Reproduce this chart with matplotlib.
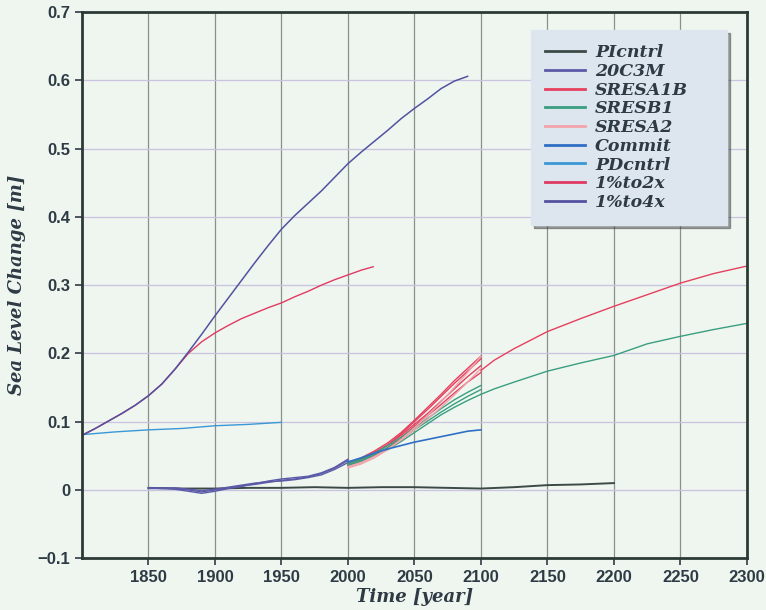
import matplotlib
matplotlib.use("Agg")
import matplotlib.pyplot as plt

# ---- data ----
pictrl_year = [1850, 1875, 1900, 1925, 1950, 1975, 2000, 2025, 2050, 2075, 2100, 2125, 2150, 2175, 2200]
pictrl = [0.003, 0.002, 0.002, 0.003, 0.003, 0.004, 0.003, 0.004, 0.004, 0.003, 0.002, 0.004, 0.007, 0.008, 0.010]

c20_year = [1850, 1860, 1870, 1880, 1890, 1900, 1910, 1920, 1930, 1940, 1950, 1960, 1970, 1980, 1990, 2000]
c20_runs = [
    [0.003, 0.003, 0.002, 0.000, -0.003, 0.000, 0.003, 0.006, 0.008, 0.011, 0.014, 0.016, 0.019, 0.024, 0.032, 0.043],
    [0.002, 0.002, 0.001, -0.002, -0.005, -0.002, 0.002, 0.005, 0.009, 0.013, 0.016, 0.018, 0.020, 0.025, 0.033, 0.045],
    [0.003, 0.002, 0.003, 0.001, -0.001, 0.001, 0.004, 0.007, 0.010, 0.012, 0.013, 0.015, 0.018, 0.022, 0.030, 0.040],
]

scen_year = [2000, 2010, 2020, 2030, 2040, 2050, 2060, 2070, 2080, 2090, 2100]
a1b_runs = [
    [0.040, 0.046, 0.055, 0.066, 0.080, 0.096, 0.112, 0.130, 0.148, 0.166, 0.182],
    [0.038, 0.045, 0.054, 0.066, 0.082, 0.100, 0.118, 0.137, 0.156, 0.174, 0.192],
    [0.036, 0.042, 0.051, 0.062, 0.077, 0.093, 0.109, 0.125, 0.142, 0.158, 0.172],
    [0.039, 0.047, 0.057, 0.069, 0.084, 0.102, 0.121, 0.140, 0.160, 0.178, 0.196],
]
a2_runs = [
    [0.032, 0.038, 0.047, 0.059, 0.074, 0.091, 0.109, 0.129, 0.150, 0.172, 0.196],
    [0.034, 0.040, 0.049, 0.060, 0.073, 0.088, 0.104, 0.121, 0.139, 0.158, 0.178],
]
b1_runs = [
    [0.038, 0.044, 0.052, 0.062, 0.074, 0.088, 0.101, 0.114, 0.126, 0.137, 0.147],
    [0.036, 0.042, 0.050, 0.059, 0.071, 0.084, 0.097, 0.110, 0.121, 0.131, 0.140],
    [0.040, 0.046, 0.054, 0.065, 0.077, 0.091, 0.105, 0.119, 0.132, 0.143, 0.153],
]
commit = [0.041, 0.047, 0.054, 0.060, 0.065, 0.070, 0.074, 0.078, 0.082, 0.086, 0.088]

ext_year = [2100, 2110, 2125, 2150, 2175, 2200, 2225, 2250, 2275, 2300]
a1b_ext = [0.175, 0.190, 0.207, 0.232, 0.251, 0.269, 0.286, 0.303, 0.317, 0.328]
b1_ext = [0.140, 0.148, 0.158, 0.174, 0.186, 0.197, 0.214, 0.225, 0.235, 0.244]

pd_year = [1800, 1825, 1850, 1875, 1900, 1925, 1950]
pdcntrl = [0.081, 0.085, 0.088, 0.090, 0.094, 0.096, 0.099]

x4_year = [1800, 1810, 1820, 1830, 1840, 1850, 1860, 1870, 1880, 1890, 1900, 1910, 1920, 1930, 1940,
           1950, 1960, 1970, 1980, 1990, 2000, 2010, 2020, 2030, 2040, 2050, 2060, 2070, 2080, 2090]
x4 = [0.080, 0.090, 0.101, 0.112, 0.124, 0.138, 0.155, 0.177, 0.202, 0.228, 0.255, 0.281, 0.307, 0.333, 0.358,
      0.382, 0.402, 0.420, 0.438, 0.458, 0.478, 0.495, 0.511, 0.527, 0.544, 0.559, 0.573, 0.588, 0.599, 0.606]
x2_year = [1800, 1810, 1820, 1830, 1840, 1850, 1860, 1870, 1880, 1890, 1900, 1910, 1920, 1930, 1940,
           1950, 1960, 1970, 1980, 1990, 2000, 2010, 2019]
x2 = [0.080, 0.090, 0.101, 0.112, 0.124, 0.138, 0.155, 0.177, 0.200, 0.217, 0.230, 0.241, 0.251, 0.259, 0.267,
      0.274, 0.283, 0.291, 0.300, 0.308, 0.315, 0.322, 0.327]

# ---- style ----
bg = "#eff6f0"
ink = "#2e3b44"
col = {
    "PIcntrl": "#3c4a47",
    "20C3M": "#5b5aa8",
    "SRESA1B": "#e5405e",
    "SRESB1": "#3a9e80",
    "SRESA2": "#f2a3ab",
    "Commit": "#2f6fc6",
    "PDcntrl": "#3a98d6",
    "1%to2x": "#e03a62",
    "1%to4x": "#5252a0",
}
lab_font = dict(family="DejaVu Serif", weight="bold", style="italic")

fig = plt.figure(figsize=(7.66, 6.10), dpi=100, facecolor=bg)
ax = fig.add_axes([0.107, 0.085, 0.868, 0.895], facecolor=bg)

lw = 1.0
ax.plot(pictrl_year, pictrl, color=col["PIcntrl"], lw=1.4, label="PIcntrl")
for i, r in enumerate(c20_runs):
    ax.plot(c20_year, r, color=col["20C3M"], lw=lw, label="20C3M" if i == 0 else None)
for i, r in enumerate(a1b_runs):
    ax.plot(scen_year, r, color=col["SRESA1B"], lw=lw, label="SRESA1B" if i == 0 else None)
for i, r in enumerate(b1_runs):
    ax.plot(scen_year, r, color=col["SRESB1"], lw=lw, label="SRESB1" if i == 0 else None)
for i, r in enumerate(a2_runs):
    ax.plot(scen_year, r, color=col["SRESA2"], lw=lw, label="SRESA2" if i == 0 else None)
ax.plot(scen_year, commit, color=col["Commit"], lw=1.2, label="Commit")
ax.plot(pd_year, pdcntrl, color=col["PDcntrl"], lw=lw, label="PDcntrl")
ax.plot(x2_year, x2, color=col["1%to2x"], lw=lw, label="1%to2x")
ax.plot(x4_year, x4, color=col["1%to4x"], lw=1.1, label="1%to4x")
# continuation after 2100 (not in legend)
ax.plot(ext_year, a1b_ext, color=col["SRESA1B"], lw=lw)
ax.plot(ext_year, b1_ext, color=col["SRESB1"], lw=lw)

ax.set_xlim(1800, 2300)
ax.set_ylim(-0.1, 0.7)
ax.set_xticks(range(1850, 2301, 50))
ax.set_yticks([-0.1, 0, 0.1, 0.2, 0.3, 0.4, 0.5, 0.6, 0.7])
ax.set_yticklabels(["\u22120.1", "0", "0.1", "0.2", "0.3", "0.4", "0.5", "0.6", "0.7"])

ax.xaxis.grid(True, color="#8a908a", lw=0.9)
ax.yaxis.grid(True, color="#c9c3e2", lw=0.9)
ax.set_axisbelow(True)

for s in ax.spines.values():
    s.set_color("#2c3a36")
    s.set_linewidth(2.0)
ax.tick_params(axis="both", colors=ink, length=5, width=1.2, direction="out")
for t in ax.get_xticklabels() + ax.get_yticklabels():
    t.set_fontfamily("Liberation Sans")
    t.set_fontweight("bold")
    t.set_fontsize(12)
    t.set_color(ink)

ax.set_xlabel("Time [year]", fontsize=13, color=ink, labelpad=2, **lab_font)
ax.set_ylabel("Sea Level Change [m]", fontsize=13, color=ink, labelpad=8, **lab_font)

leg = ax.legend(loc="upper left", bbox_to_anchor=(0.675, 0.615, 0.295, 0.352), mode="expand",
                prop=dict(family="DejaVu Serif", weight="bold", style="italic", size=12.5),
                frameon=True, fancybox=False, shadow=True, handlelength=2.3,
                handletextpad=0.6, labelspacing=0.1, borderpad=0.8, borderaxespad=0)
leg.get_frame().set_facecolor("#dde6ee")
leg.get_frame().set_edgecolor("#dde6ee")
for t in leg.get_texts():
    t.set_color(ink)
for h in leg.get_lines():
    h.set_linewidth(2.0)

fig.savefig("out.png", dpi=100, facecolor=bg)
